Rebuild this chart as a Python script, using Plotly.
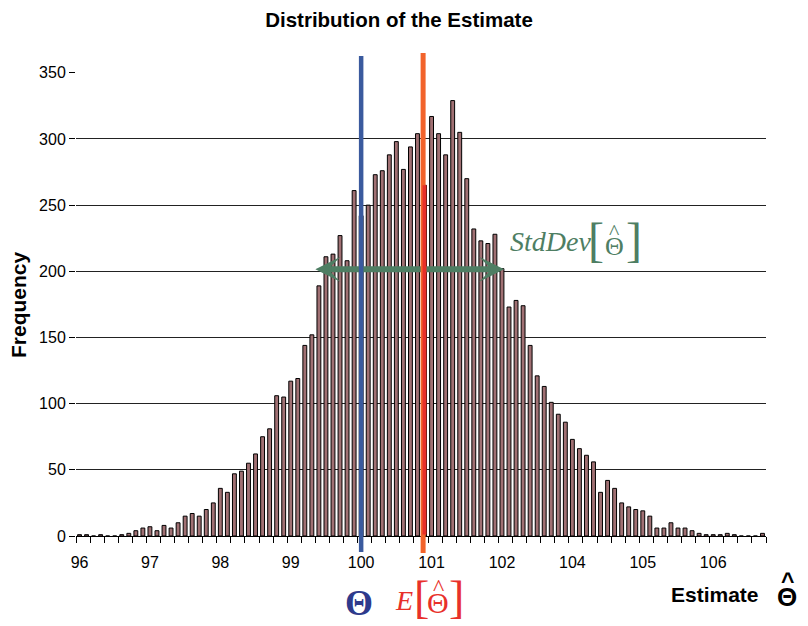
import plotly.graph_objects as go

# ---- data ----
counts = [1, 1, 0, 1, 0, 0, 1, 2, 4, 6,
          7, 4, 8, 6, 10, 15, 17, 15, 20, 25,
          36, 33, 47, 49, 55, 62, 75, 81, 106, 105,
          117, 119, 144, 152, 189, 211, 213, 227, 208, 261,
          242, 250, 273, 276, 288, 298, 277, 294, 304, 265,
          317, 304, 288, 329, 305, 270, 232, 223, 221, 228,
          202, 173, 178, 174, 144, 121, 113, 101, 92, 86,
          73, 66, 61, 56, 33, 42, 36, 25, 22, 20,
          19, 15, 6, 6, 10, 6, 6, 4, 2, 1,
          1, 1, 2, 1, 0, 0, 0, 2]
bin_index = list(range(len(counts)))

x_label_pos = [0, 10, 20, 30, 40, 50, 60, 70, 80, 90]
x_label_text = ["96", "97", "98", "99", "100", "101", "102", "104", "105", "106"]
y_tick_vals = [0, 50, 100, 150, 200, 250, 300, 350]

THETA_POS = 40       # true parameter position (category units)
MEAN_POS = 48.8      # E[theta-hat] position
MEAN_BIN = 49        # bin drawn in red under the mean line
SD_LEFT, SD_RIGHT, SD_LEVEL = 33.5, 60.3, 201.5

# ---- styles ----
SANS = "Liberation Sans, Arial, sans-serif"
SERIF = "Liberation Serif, Times New Roman, serif"
BAR_FILL = "#A07073"
BLUE = "#3A5A9E"
ORANGE = "#F2632B"
RED = "#E8302A"
GREEN = "#4E7E63"
THETA_BLUE = "#2E3A8C"

# plot area in page pixels (page has an 8px body margin)
PX0, PX1, PY0, PY1 = 76, 766, 72, 536


def px(xp):
    return (xp - PX0) / (PX1 - PX0)


def py(yp):
    return (PY1 - yp) / (PY1 - PY0)


colors = [BAR_FILL] * len(counts)
colors[MEAN_BIN] = RED

fig = go.Figure()
fig.add_trace(go.Bar(
    x=bin_index, y=counts,
    marker=dict(color=colors, line=dict(color="black", width=1)),
    hoverinfo="skip",
))

shapes = [
    # StdDev arrow shaft
    dict(type="line", xref="x", yref="y", x0=SD_LEFT + 1.5, x1=SD_RIGHT - 1.5,
         y0=SD_LEVEL, y1=SD_LEVEL, line=dict(color=GREEN, width=6), layer="above"),
    # Theta line
    dict(type="line", xref="x", yref="paper", x0=THETA_POS, x1=THETA_POS,
         y0=py(552), y1=py(56), line=dict(color=BLUE, width=4.5), layer="above"),
    # E[theta-hat] line
    dict(type="line", xref="x", yref="paper", x0=MEAN_POS, x1=MEAN_POS,
         y0=py(553), y1=py(53), line=dict(color=ORANGE, width=5), layer="above"),
]

annotations = []
# arrow heads of the StdDev arrow
for tip, tail in ((SD_LEFT, SD_LEFT + 2.5), (SD_RIGHT, SD_RIGHT - 2.5)):
    annotations.append(dict(
        x=tip, y=SD_LEVEL, ax=tail, ay=SD_LEVEL,
        xref="x", yref="y", axref="x", ayref="y",
        text="", showarrow=True, arrowhead=3, arrowsize=0.7, arrowwidth=6,
        arrowcolor=GREEN, standoff=0,
    ))
# red segment of the bin under the mean line
annotations.append(dict(
    x=MEAN_BIN, y=counts[MEAN_BIN], ax=MEAN_BIN, ay=0,
    xref="x", yref="y", axref="x", ayref="y",
    text="", showarrow=True, arrowhead=0, arrowwidth=4, arrowcolor=RED,
))


def label(x, y, text, family, size, color, **kw):
    annotations.append(dict(x=px(x), y=py(y), xref="paper", yref="paper", text=text,
                            showarrow=False, xanchor="center", yanchor="middle",
                            font=dict(family=family, size=size, color=color), **kw))


# Theta (blue)
label(358.5, 602.5, "<b>Θ</b>", SERIF, 36, THETA_BLUE)
# E[theta-hat] (red)
label(404, 600, "<i>E</i>", SERIF, 28, RED)
label(421, 597, "[", SERIF, 46, RED)
label(438, 602, "Θ", SERIF, 30, RED)
label(438, 587, "^", SERIF, 24, RED)
label(456.5, 597, "]", SERIF, 46, RED)
# StdDev[theta-hat] (green)
label(550.5, 241.5, "<i>StdDev</i>", SERIF, 28, GREEN)
label(595.5, 239, "[", SERIF, 48, GREEN)
label(614.5, 246, "Θ", SERIF, 26, GREEN)
label(614.5, 231, "^", SERIF, 22, GREEN)
label(633.5, 239, "]", SERIF, 48, GREEN)
# axis titles
label(714.5, 594.5, "<b>Estimate</b>", SANS, 21, "black")
label(787, 597, "<b>Θ</b>", SANS, 26, "black")
label(787, 580.5, "<b>^</b>", SANS, 23, "black")
label(18, 305, "<b>Frequency</b>", SANS, 21, "black", textangle=-90)

fig.update_layout(
    width=800, height=618,
    margin=dict(l=68, r=42, t=64, b=90),
    plot_bgcolor="white", paper_bgcolor="white",
    showlegend=False,
    bargap=0.45,
    title=dict(text="<b>Distribution of the Estimate</b>", x=391 / 800, y=1 - 11.5 / 618,
               xref="container", yref="container", xanchor="center", yanchor="middle",
               font=dict(family=SANS, size=20.5, color="black")),
    shapes=shapes,
    annotations=annotations,
    xaxis=dict(
        range=[-0.5, len(counts) - 0.5],
        tickmode="array", tickvals=x_label_pos, ticktext=x_label_text,
        ticks="outside", ticklen=12, tickcolor="rgba(0,0,0,0)",
        tickfont=dict(family=SANS, size=16, color="black"),
        showgrid=False, zeroline=False,
        showline=True, linecolor="black", linewidth=1,
        minor=dict(tickmode="array",
                   tickvals=[k - 0.5 for k in range(0, len(counts) + 1, 2)],
                   ticks="outside", ticklen=6, tickcolor="black", tickwidth=1, showgrid=False),
    ),
    yaxis=dict(
        range=[0, 350.6], tickmode="array", tickvals=y_tick_vals,
        ticks="outside", ticklen=6, tickcolor="black",
        tickfont=dict(family=SANS, size=16, color="black"),
        showgrid=True, gridcolor="#222222", gridwidth=1,
        zeroline=False, showline=False,
    ),
)

fig.write_html("out.html")
